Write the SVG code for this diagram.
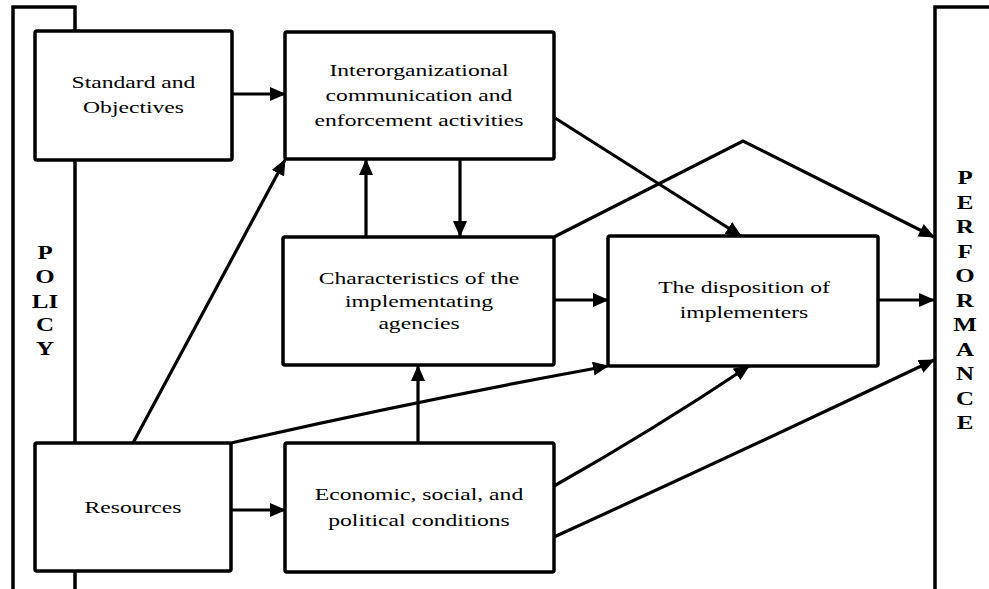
<svg xmlns="http://www.w3.org/2000/svg" width="989" height="589" viewBox="0 0 989 589">
<style>
.frame{fill:none;stroke:#000;stroke-width:3.5}
.box{fill:#fff;stroke:#000;stroke-width:3.5}
.con{fill:none;stroke:#000;stroke-width:3.2}
.t{font-family:"Liberation Serif","Times New Roman",serif;font-size:17.5px;fill:#000;text-anchor:middle}
.s{font-family:"Liberation Serif","Times New Roman",serif;font-size:18.5px;font-weight:bold;fill:#000;text-anchor:middle}
</style>
<defs>
<marker id="ah" viewBox="0 0 16 14" refX="15" refY="7" markerWidth="16" markerHeight="14" markerUnits="userSpaceOnUse" orient="auto">
<path d="M0,0 L16,7 L0,14 Z" fill="#000"/>
</marker>
</defs>
<rect width="989" height="589" fill="#fff"/>
<g id="policy">
<path class="frame" d="M13,589 L13,7 L75,7 L75,589"/>
<g transform="translate(45 0) scale(1.35 1)">
<text class="s" y="259">P</text>
<text class="s" y="283">O</text>
<text class="s" y="308">LI</text>
<text class="s" y="331">C</text>
<text class="s" y="355">Y</text>
</g>
</g>
<g id="performance">
<path class="frame" d="M935,589 L935,7 L992,7"/>
<g transform="translate(965 0) scale(1.35 1)">
<text class="s" y="184">P</text>
<text class="s" y="209">E</text>
<text class="s" y="233">R</text>
<text class="s" y="258">F</text>
<text class="s" y="282">O</text>
<text class="s" y="307">R</text>
<text class="s" y="331">M</text>
<text class="s" y="356">A</text>
<text class="s" y="380">N</text>
<text class="s" y="405">C</text>
<text class="s" y="429">E</text>
</g>
</g>
<g id="connectors">
<line class="con" x1="232" y1="94" x2="285" y2="94" marker-end="url(#ah)"/>
<line class="con" x1="133" y1="443" x2="285" y2="160" marker-end="url(#ah)"/>
<line class="con" x1="366" y1="237" x2="366" y2="160" marker-end="url(#ah)"/>
<line class="con" x1="460" y1="159" x2="460" y2="236" marker-end="url(#ah)"/>
<line class="con" x1="555" y1="118" x2="741" y2="236" marker-end="url(#ah)"/>
<polyline class="con" points="554,237 743,141 934,237" marker-end="url(#ah)"/>
<line class="con" x1="554" y1="300" x2="608" y2="300" marker-end="url(#ah)"/>
<line class="con" x1="878" y1="300" x2="934" y2="300" marker-end="url(#ah)"/>
<path class="con" d="M231,443 Q420,400 608,366" marker-end="url(#ah)"/>
<line class="con" x1="418" y1="443" x2="418" y2="366" marker-end="url(#ah)"/>
<line class="con" x1="231" y1="510" x2="285" y2="510" marker-end="url(#ah)"/>
<path class="con" d="M554,486 Q650,432 749,366" marker-end="url(#ah)"/>
<path class="con" d="M554,537 Q740,452 934,360" marker-end="url(#ah)"/>
</g>
<g id="standard">
<rect class="box" x="35" y="31" width="197" height="129" rx="2"/>
<g transform="translate(133.5 0) scale(1.35 1)">
<text class="t" y="88">Standard and</text>
<text class="t" y="113">Objectives</text>
</g>
</g>
<g id="interorg">
<rect class="box" x="285" y="32" width="269" height="127" rx="2"/>
<g transform="translate(419 0) scale(1.35 1)">
<text class="t" y="76">Interorganizational</text>
<text class="t" y="101">communication and</text>
<text class="t" y="126">enforcement activities</text>
</g>
</g>
<g id="characteristics">
<rect class="box" x="283" y="237" width="271" height="128" rx="2"/>
<g transform="translate(419 0) scale(1.35 1)">
<text class="t" y="284">Characteristics of the</text>
<text class="t" y="307">implementating</text>
<text class="t" y="329">agencies</text>
</g>
</g>
<g id="disposition">
<rect class="box" x="608" y="236" width="270" height="130" rx="2"/>
<g transform="translate(744 0) scale(1.35 1)">
<text class="t" y="293">The disposition of</text>
<text class="t" y="318">implementers</text>
</g>
</g>
<g id="resources">
<rect class="box" x="35" y="443" width="196" height="128" rx="2"/>
<g transform="translate(133 0) scale(1.35 1)">
<text class="t" y="513">Resources</text>
</g>
</g>
<g id="economic">
<rect class="box" x="285" y="443" width="269" height="129" rx="2"/>
<g transform="translate(419 0) scale(1.35 1)">
<text class="t" y="500">Economic, social, and</text>
<text class="t" y="526">political conditions</text>
</g>
</g>
</svg>
